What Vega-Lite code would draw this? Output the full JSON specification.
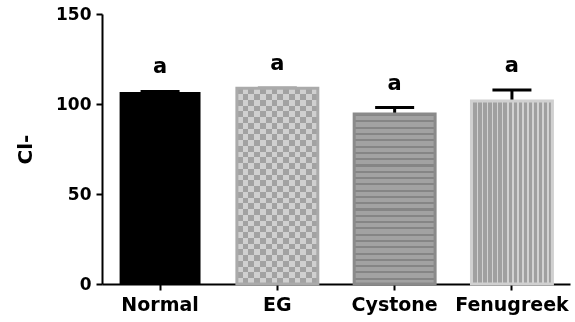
{
  "$schema": "https://vega.github.io/schema/vega-lite/v6.json",
  "width": 468,
  "height": 270,
  "autosize": "none",
  "padding": {"left": 102, "top": 14, "right": 5, "bottom": 38},
  "background": "white",
  "config": {
    "view": {"stroke": null},
    "axis": {
      "domainColor": "black", "domainWidth": 2, "tickColor": "black", "tickWidth": 2, "tickSize": 6,
      "labelFont": "DejaVu Sans", "labelFontWeight": "bold", "labelColor": "black",
      "titleFont": "DejaVu Sans", "titleFontWeight": "bold", "titleColor": "black", "grid": false
    }
  },
  "data": {
    "values": [
      {"group": "Normal", "mean": 106.6, "upper": 107.0, "label": "a"},
      {"group": "EG", "mean": 108.7, "upper": 108.7, "label": "a"},
      {"group": "Cystone", "mean": 94.4, "upper": 98.0, "label": "a"},
      {"group": "Fenugreek", "mean": 101.7, "upper": 107.8, "label": "a"}
    ]
  },
  "encoding": {
    "x": {
      "field": "group", "type": "nominal",
      "scale": {"domain": ["Normal", "EG", "Cystone", "Fenugreek"], "paddingInner": 0.31, "paddingOuter": 0.15},
      "axis": {"title": null, "labelAngle": 0, "labelFontSize": 19, "labelPadding": 5}
    }
  },
  "layer": [
    {
      "mark": {"type": "rule", "color": "black", "strokeWidth": 3, "opacity": 1},
      "encoding": {
        "y": {"field": "mean", "type": "quantitative"},
        "y2": {"field": "upper"}
      }
    },
    {
      "mark": {"type": "tick", "color": "black", "size": 39, "thickness": 3, "opacity": 1},
      "encoding": {"y": {"field": "upper", "type": "quantitative"}}
    },
    {
      "transform": [{"filter": "datum.group === 'Normal'"}],
      "mark": {"type": "bar", "color": "black"},
      "encoding": {
        "y": {"field": "mean", "type": "quantitative",
          "scale": {"domain": [0, 150], "nice": false},
          "axis": {"values": [0, 50, 100, 150], "title": "Cl-", "titleFontSize": 20, "labelFontSize": 17, "labelPadding": 5, "titlePadding": 20}}
      }
    },
    {
      "transform": [{"filter": "datum.group === 'EG'"}],
      "mark": {"type": "bar", "color": {"gradient": "linear", "x1": 0, "y1": 0, "x2": 1, "y2": 0, "stops": [
        {"offset": 0, "color": "#000000"}, {"offset": 0.0714, "color": "#000000"},
        {"offset": 0.0714, "color": "#7e7e7e"}, {"offset": 0.1429, "color": "#7e7e7e"},
        {"offset": 0.1429, "color": "#000000"}, {"offset": 0.2143, "color": "#000000"},
        {"offset": 0.2143, "color": "#7e7e7e"}, {"offset": 0.2857, "color": "#7e7e7e"},
        {"offset": 0.2857, "color": "#000000"}, {"offset": 0.3571, "color": "#000000"},
        {"offset": 0.3571, "color": "#7e7e7e"}, {"offset": 0.4286, "color": "#7e7e7e"},
        {"offset": 0.4286, "color": "#000000"}, {"offset": 0.5, "color": "#000000"},
        {"offset": 0.5, "color": "#7e7e7e"}, {"offset": 0.5714, "color": "#7e7e7e"},
        {"offset": 0.5714, "color": "#000000"}, {"offset": 0.6429, "color": "#000000"},
        {"offset": 0.6429, "color": "#7e7e7e"}, {"offset": 0.7143, "color": "#7e7e7e"},
        {"offset": 0.7143, "color": "#000000"}, {"offset": 0.7857, "color": "#000000"},
        {"offset": 0.7857, "color": "#7e7e7e"}, {"offset": 0.8571, "color": "#7e7e7e"},
        {"offset": 0.8571, "color": "#000000"}, {"offset": 0.9286, "color": "#000000"},
        {"offset": 0.9286, "color": "#7e7e7e"}, {"offset": 1, "color": "#7e7e7e"}
      ]}},
      "encoding": {"y": {"field": "mean", "type": "quantitative"}}
    },
    {
      "transform": [{"filter": "datum.group === 'EG'"}],
      "mark": {"type": "bar", "blend": "difference", "color": {"gradient": "linear", "x1": 0, "y1": 0, "x2": 0, "y2": 1, "stops": [
        {"offset": 0, "color": "#000000"}, {"offset": 0.0294, "color": "#000000"},
        {"offset": 0.0294, "color": "#7e7e7e"}, {"offset": 0.0588, "color": "#7e7e7e"},
        {"offset": 0.0588, "color": "#000000"}, {"offset": 0.0882, "color": "#000000"},
        {"offset": 0.0882, "color": "#7e7e7e"}, {"offset": 0.1176, "color": "#7e7e7e"},
        {"offset": 0.1176, "color": "#000000"}, {"offset": 0.1471, "color": "#000000"},
        {"offset": 0.1471, "color": "#7e7e7e"}, {"offset": 0.1765, "color": "#7e7e7e"},
        {"offset": 0.1765, "color": "#000000"}, {"offset": 0.2059, "color": "#000000"},
        {"offset": 0.2059, "color": "#7e7e7e"}, {"offset": 0.2353, "color": "#7e7e7e"},
        {"offset": 0.2353, "color": "#000000"}, {"offset": 0.2647, "color": "#000000"},
        {"offset": 0.2647, "color": "#7e7e7e"}, {"offset": 0.2941, "color": "#7e7e7e"},
        {"offset": 0.2941, "color": "#000000"}, {"offset": 0.3235, "color": "#000000"},
        {"offset": 0.3235, "color": "#7e7e7e"}, {"offset": 0.3529, "color": "#7e7e7e"},
        {"offset": 0.3529, "color": "#000000"}, {"offset": 0.3824, "color": "#000000"},
        {"offset": 0.3824, "color": "#7e7e7e"}, {"offset": 0.4118, "color": "#7e7e7e"},
        {"offset": 0.4118, "color": "#000000"}, {"offset": 0.4412, "color": "#000000"},
        {"offset": 0.4412, "color": "#7e7e7e"}, {"offset": 0.4706, "color": "#7e7e7e"},
        {"offset": 0.4706, "color": "#000000"}, {"offset": 0.5, "color": "#000000"},
        {"offset": 0.5, "color": "#7e7e7e"}, {"offset": 0.5294, "color": "#7e7e7e"},
        {"offset": 0.5294, "color": "#000000"}, {"offset": 0.5588, "color": "#000000"},
        {"offset": 0.5588, "color": "#7e7e7e"}, {"offset": 0.5882, "color": "#7e7e7e"},
        {"offset": 0.5882, "color": "#000000"}, {"offset": 0.6176, "color": "#000000"},
        {"offset": 0.6176, "color": "#7e7e7e"}, {"offset": 0.6471, "color": "#7e7e7e"},
        {"offset": 0.6471, "color": "#000000"}, {"offset": 0.6765, "color": "#000000"},
        {"offset": 0.6765, "color": "#7e7e7e"}, {"offset": 0.7059, "color": "#7e7e7e"},
        {"offset": 0.7059, "color": "#000000"}, {"offset": 0.7353, "color": "#000000"},
        {"offset": 0.7353, "color": "#7e7e7e"}, {"offset": 0.7647, "color": "#7e7e7e"},
        {"offset": 0.7647, "color": "#000000"}, {"offset": 0.7941, "color": "#000000"},
        {"offset": 0.7941, "color": "#7e7e7e"}, {"offset": 0.8235, "color": "#7e7e7e"},
        {"offset": 0.8235, "color": "#000000"}, {"offset": 0.8529, "color": "#000000"},
        {"offset": 0.8529, "color": "#7e7e7e"}, {"offset": 0.8824, "color": "#7e7e7e"},
        {"offset": 0.8824, "color": "#000000"}, {"offset": 0.9118, "color": "#000000"},
        {"offset": 0.9118, "color": "#7e7e7e"}, {"offset": 0.9412, "color": "#7e7e7e"},
        {"offset": 0.9412, "color": "#000000"}, {"offset": 0.9706, "color": "#000000"},
        {"offset": 0.9706, "color": "#7e7e7e"}, {"offset": 1, "color": "#7e7e7e"}
      ]}},
      "encoding": {"y": {"field": "mean", "type": "quantitative"}}
    },
    {
      "transform": [{"filter": "datum.group === 'EG'"}],
      "mark": {"type": "bar", "blend": "screen", "color": "#a2a2a2"},
      "encoding": {"y": {"field": "mean", "type": "quantitative"}}
    },
    {
      "transform": [{"filter": "datum.group === 'EG'"}],
      "mark": {"type": "bar", "filled": false, "stroke": "#aaaaaa", "strokeWidth": 3},
      "encoding": {"y": {"field": "mean", "type": "quantitative"}}
    },
    {
      "transform": [{"filter": "datum.group === 'Cystone'"}],
      "mark": {"type": "bar", "stroke": "#8a8a8a", "strokeWidth": 3, "color": {"gradient": "linear", "x1": 0, "y1": 0, "x2": 0, "y2": 1, "stops": [
        {"offset": 0, "color": "#858585"}, {"offset": 0.0123, "color": "#858585"}, {"offset": 0.0123, "color": "#a2a2a2"}, {"offset": 0.037, "color": "#a2a2a2"},
        {"offset": 0.037, "color": "#858585"}, {"offset": 0.0493, "color": "#858585"}, {"offset": 0.0493, "color": "#a2a2a2"}, {"offset": 0.0741, "color": "#a2a2a2"},
        {"offset": 0.0741, "color": "#858585"}, {"offset": 0.0864, "color": "#858585"}, {"offset": 0.0864, "color": "#a2a2a2"}, {"offset": 0.1111, "color": "#a2a2a2"},
        {"offset": 0.1111, "color": "#858585"}, {"offset": 0.1234, "color": "#858585"}, {"offset": 0.1234, "color": "#a2a2a2"}, {"offset": 0.1481, "color": "#a2a2a2"},
        {"offset": 0.1481, "color": "#858585"}, {"offset": 0.1604, "color": "#858585"}, {"offset": 0.1604, "color": "#a2a2a2"}, {"offset": 0.1852, "color": "#a2a2a2"},
        {"offset": 0.1852, "color": "#858585"}, {"offset": 0.1975, "color": "#858585"}, {"offset": 0.1975, "color": "#a2a2a2"}, {"offset": 0.2222, "color": "#a2a2a2"},
        {"offset": 0.2222, "color": "#858585"}, {"offset": 0.2345, "color": "#858585"}, {"offset": 0.2345, "color": "#a2a2a2"}, {"offset": 0.2593, "color": "#a2a2a2"},
        {"offset": 0.2593, "color": "#858585"}, {"offset": 0.2716, "color": "#858585"}, {"offset": 0.2716, "color": "#a2a2a2"}, {"offset": 0.2963, "color": "#a2a2a2"},
        {"offset": 0.2963, "color": "#858585"}, {"offset": 0.3086, "color": "#858585"}, {"offset": 0.3086, "color": "#a2a2a2"}, {"offset": 0.3333, "color": "#a2a2a2"},
        {"offset": 0.3333, "color": "#858585"}, {"offset": 0.3456, "color": "#858585"}, {"offset": 0.3456, "color": "#a2a2a2"}, {"offset": 0.3704, "color": "#a2a2a2"},
        {"offset": 0.3704, "color": "#858585"}, {"offset": 0.3827, "color": "#858585"}, {"offset": 0.3827, "color": "#a2a2a2"}, {"offset": 0.4074, "color": "#a2a2a2"},
        {"offset": 0.4074, "color": "#858585"}, {"offset": 0.4197, "color": "#858585"}, {"offset": 0.4197, "color": "#a2a2a2"}, {"offset": 0.4444, "color": "#a2a2a2"},
        {"offset": 0.4444, "color": "#858585"}, {"offset": 0.4567, "color": "#858585"}, {"offset": 0.4567, "color": "#a2a2a2"}, {"offset": 0.4815, "color": "#a2a2a2"},
        {"offset": 0.4815, "color": "#858585"}, {"offset": 0.4938, "color": "#858585"}, {"offset": 0.4938, "color": "#a2a2a2"}, {"offset": 0.5185, "color": "#a2a2a2"},
        {"offset": 0.5185, "color": "#858585"}, {"offset": 0.5308, "color": "#858585"}, {"offset": 0.5308, "color": "#a2a2a2"}, {"offset": 0.5556, "color": "#a2a2a2"},
        {"offset": 0.5556, "color": "#858585"}, {"offset": 0.5679, "color": "#858585"}, {"offset": 0.5679, "color": "#a2a2a2"}, {"offset": 0.5926, "color": "#a2a2a2"},
        {"offset": 0.5926, "color": "#858585"}, {"offset": 0.6049, "color": "#858585"}, {"offset": 0.6049, "color": "#a2a2a2"}, {"offset": 0.6296, "color": "#a2a2a2"},
        {"offset": 0.6296, "color": "#858585"}, {"offset": 0.6419, "color": "#858585"}, {"offset": 0.6419, "color": "#a2a2a2"}, {"offset": 0.6667, "color": "#a2a2a2"},
        {"offset": 0.6667, "color": "#858585"}, {"offset": 0.679, "color": "#858585"}, {"offset": 0.679, "color": "#a2a2a2"}, {"offset": 0.7037, "color": "#a2a2a2"},
        {"offset": 0.7037, "color": "#858585"}, {"offset": 0.716, "color": "#858585"}, {"offset": 0.716, "color": "#a2a2a2"}, {"offset": 0.7407, "color": "#a2a2a2"},
        {"offset": 0.7407, "color": "#858585"}, {"offset": 0.753, "color": "#858585"}, {"offset": 0.753, "color": "#a2a2a2"}, {"offset": 0.7778, "color": "#a2a2a2"},
        {"offset": 0.7778, "color": "#858585"}, {"offset": 0.7901, "color": "#858585"}, {"offset": 0.7901, "color": "#a2a2a2"}, {"offset": 0.8148, "color": "#a2a2a2"},
        {"offset": 0.8148, "color": "#858585"}, {"offset": 0.8271, "color": "#858585"}, {"offset": 0.8271, "color": "#a2a2a2"}, {"offset": 0.8519, "color": "#a2a2a2"},
        {"offset": 0.8519, "color": "#858585"}, {"offset": 0.8642, "color": "#858585"}, {"offset": 0.8642, "color": "#a2a2a2"}, {"offset": 0.8889, "color": "#a2a2a2"},
        {"offset": 0.8889, "color": "#858585"}, {"offset": 0.9012, "color": "#858585"}, {"offset": 0.9012, "color": "#a2a2a2"}, {"offset": 0.9259, "color": "#a2a2a2"},
        {"offset": 0.9259, "color": "#858585"}, {"offset": 0.9382, "color": "#858585"}, {"offset": 0.9382, "color": "#a2a2a2"}, {"offset": 0.963, "color": "#a2a2a2"},
        {"offset": 0.963, "color": "#858585"}, {"offset": 0.9753, "color": "#858585"}, {"offset": 0.9753, "color": "#a2a2a2"}, {"offset": 1, "color": "#a2a2a2"}
      ]}},
      "encoding": {"y": {"field": "mean", "type": "quantitative"}}
    },
    {
      "transform": [{"filter": "datum.group === 'Fenugreek'"}],
      "mark": {"type": "bar", "stroke": "#d0d0d0", "strokeWidth": 3, "color": {"gradient": "linear", "x1": 0, "y1": 0, "x2": 1, "y2": 0, "stops": [
        {"offset": 0, "color": "#d2d2d2"}, {"offset": 0.02, "color": "#d2d2d2"}, {"offset": 0.02, "color": "#a0a0a0"}, {"offset": 0.0625, "color": "#a0a0a0"},
        {"offset": 0.0625, "color": "#d2d2d2"}, {"offset": 0.0825, "color": "#d2d2d2"}, {"offset": 0.0825, "color": "#a0a0a0"}, {"offset": 0.125, "color": "#a0a0a0"},
        {"offset": 0.125, "color": "#d2d2d2"}, {"offset": 0.145, "color": "#d2d2d2"}, {"offset": 0.145, "color": "#a0a0a0"}, {"offset": 0.1875, "color": "#a0a0a0"},
        {"offset": 0.1875, "color": "#d2d2d2"}, {"offset": 0.2075, "color": "#d2d2d2"}, {"offset": 0.2075, "color": "#a0a0a0"}, {"offset": 0.25, "color": "#a0a0a0"},
        {"offset": 0.25, "color": "#d2d2d2"}, {"offset": 0.27, "color": "#d2d2d2"}, {"offset": 0.27, "color": "#a0a0a0"}, {"offset": 0.3125, "color": "#a0a0a0"},
        {"offset": 0.3125, "color": "#d2d2d2"}, {"offset": 0.3325, "color": "#d2d2d2"}, {"offset": 0.3325, "color": "#a0a0a0"}, {"offset": 0.375, "color": "#a0a0a0"},
        {"offset": 0.375, "color": "#d2d2d2"}, {"offset": 0.395, "color": "#d2d2d2"}, {"offset": 0.395, "color": "#a0a0a0"}, {"offset": 0.4375, "color": "#a0a0a0"},
        {"offset": 0.4375, "color": "#d2d2d2"}, {"offset": 0.4575, "color": "#d2d2d2"}, {"offset": 0.4575, "color": "#a0a0a0"}, {"offset": 0.5, "color": "#a0a0a0"},
        {"offset": 0.5, "color": "#d2d2d2"}, {"offset": 0.52, "color": "#d2d2d2"}, {"offset": 0.52, "color": "#a0a0a0"}, {"offset": 0.5625, "color": "#a0a0a0"},
        {"offset": 0.5625, "color": "#d2d2d2"}, {"offset": 0.5825, "color": "#d2d2d2"}, {"offset": 0.5825, "color": "#a0a0a0"}, {"offset": 0.625, "color": "#a0a0a0"},
        {"offset": 0.625, "color": "#d2d2d2"}, {"offset": 0.645, "color": "#d2d2d2"}, {"offset": 0.645, "color": "#a0a0a0"}, {"offset": 0.6875, "color": "#a0a0a0"},
        {"offset": 0.6875, "color": "#d2d2d2"}, {"offset": 0.7075, "color": "#d2d2d2"}, {"offset": 0.7075, "color": "#a0a0a0"}, {"offset": 0.75, "color": "#a0a0a0"},
        {"offset": 0.75, "color": "#d2d2d2"}, {"offset": 0.77, "color": "#d2d2d2"}, {"offset": 0.77, "color": "#a0a0a0"}, {"offset": 0.8125, "color": "#a0a0a0"},
        {"offset": 0.8125, "color": "#d2d2d2"}, {"offset": 0.8325, "color": "#d2d2d2"}, {"offset": 0.8325, "color": "#a0a0a0"}, {"offset": 0.875, "color": "#a0a0a0"},
        {"offset": 0.875, "color": "#d2d2d2"}, {"offset": 0.895, "color": "#d2d2d2"}, {"offset": 0.895, "color": "#a0a0a0"}, {"offset": 0.9375, "color": "#a0a0a0"},
        {"offset": 0.9375, "color": "#d2d2d2"}, {"offset": 0.9575, "color": "#d2d2d2"}, {"offset": 0.9575, "color": "#a0a0a0"}, {"offset": 1, "color": "#a0a0a0"}
      ]}},
      "encoding": {"y": {"field": "mean", "type": "quantitative"}}
    },
    {
      "mark": {"type": "text", "font": "DejaVu Sans", "fontWeight": "bold", "fontSize": 21, "color": "black", "baseline": "middle", "dy": -24},
      "encoding": {
        "y": {"field": "upper", "type": "quantitative"},
        "text": {"field": "label"}
      }
    }
  ]
}
